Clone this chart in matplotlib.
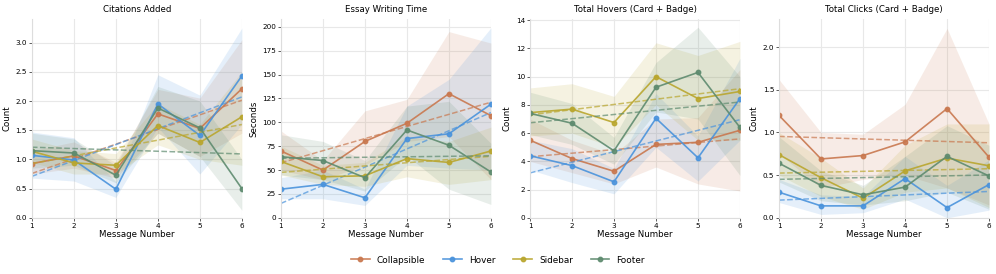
import matplotlib
matplotlib.use("Agg")
import matplotlib.pyplot as plt
import numpy as np

# Message numbers
messages = [1, 2, 3, 4, 5, 6]
conditions = ["Collapsible", "Hover", "Sidebar", "Footer"]
colors = {"Collapsible": "#c9784f", "Hover": "#4a93dc",
          "Sidebar": "#b9a62e", "Footer": "#5e8b6f"}

# Citations Added
cit_mean = {"Collapsible": [0.93, 1.06, 0.81, 1.78, 1.53, 2.21],
            "Hover": [1.07, 0.99, 0.49, 1.95, 1.41, 2.43],
            "Sidebar": [1.14, 0.94, 0.90, 1.58, 1.29, 1.73],
            "Footer": [1.15, 1.11, 0.73, 1.88, 1.54, 0.50]}
cit_low = {"Collapsible": [0.75, 0.85, 0.68, 1.45, 1.05, 1.45],
           "Hover": [0.68, 0.63, 0.35, 1.55, 0.75, 1.60],
           "Sidebar": [0.95, 0.75, 0.75, 1.25, 1.00, 0.90],
           "Footer": [0.85, 0.90, 0.60, 1.45, 1.05, 0.13]}
cit_high = {"Collapsible": [1.15, 1.30, 0.95, 2.20, 2.05, 3.05],
            "Hover": [1.47, 1.37, 0.62, 2.45, 2.10, 3.25],
            "Sidebar": [1.35, 1.15, 1.10, 1.95, 1.60, 2.50],
            "Footer": [1.45, 1.35, 0.90, 2.25, 2.00, 1.00]}

# Essay Writing Time
time_mean = {"Collapsible": [70, 50, 80, 99, 130, 107],
             "Hover": [30, 35, 21, 83, 88, 119],
             "Sidebar": [59, 43, 44, 62, 58, 70],
             "Footer": [64, 60, 42, 92, 76, 48]}
time_low = {"Collapsible": [50, 40, 55, 80, 85, 40],
            "Hover": [20, 20, 13, 55, 52, 50],
            "Sidebar": [45, 35, 33, 43, 35, 40],
            "Footer": [45, 40, 28, 65, 30, 14]}
time_high = {"Collapsible": [91, 60, 112, 124, 195, 183],
             "Hover": [42, 50, 30, 117, 145, 199],
             "Sidebar": [75, 55, 58, 85, 80, 95],
             "Footer": [87, 80, 60, 117, 122, 78]}

# Total Hovers
hov_mean = {"Collapsible": [5.5, 4.2, 3.3, 5.2, 5.35, 6.2],
            "Hover": [4.4, 3.7, 2.55, 7.05, 4.25, 8.45],
            "Sidebar": [7.45, 7.7, 6.75, 10.0, 8.45, 8.95],
            "Footer": [7.4, 6.7, 4.75, 9.25, 10.3, 6.4]}
hov_low = {"Collapsible": [4.0, 3.2, 2.4, 3.6, 2.4, 1.9],
           "Hover": [3.4, 2.5, 1.7, 5.0, 2.6, 5.5],
           "Sidebar": [5.8, 6.0, 5.0, 8.0, 5.5, 5.5],
           "Footer": [5.9, 5.2, 3.8, 7.5, 7.0, 3.0]}
hov_high = {"Collapsible": [7.0, 5.5, 4.5, 7.0, 7.1, 10.5],
            "Hover": [5.5, 4.9, 3.5, 8.8, 5.8, 11.3],
            "Sidebar": [9.2, 9.5, 8.6, 12.4, 11.5, 12.5],
            "Footer": [8.9, 8.1, 5.7, 11.0, 13.5, 10.0]}

# Total Clicks
clk_mean = {"Collapsible": [1.20, 0.69, 0.73, 0.89, 1.28, 0.71],
            "Hover": [0.30, 0.14, 0.14, 0.46, 0.12, 0.39],
            "Sidebar": [0.74, 0.47, 0.23, 0.55, 0.70, 0.61],
            "Footer": [0.64, 0.38, 0.27, 0.36, 0.72, 0.49]}
clk_low = {"Collapsible": [0.75, 0.35, 0.45, 0.50, 0.35, 0.15],
           "Hover": [0.18, 0.04, 0.06, 0.22, 0.00, 0.09],
           "Sidebar": [0.50, 0.25, 0.10, 0.30, 0.35, 0.12],
           "Footer": [0.42, 0.20, 0.15, 0.20, 0.30, 0.10]}
clk_high = {"Collapsible": [1.62, 1.00, 0.98, 1.33, 2.22, 1.10],
            "Hover": [0.45, 0.27, 0.25, 0.72, 0.38, 0.68],
            "Sidebar": [1.00, 0.70, 0.35, 0.85, 1.10, 1.10],
            "Footer": [0.95, 0.55, 0.38, 0.72, 1.08, 0.85]}

panels = [("Citations Added", "Count", cit_mean, cit_low, cit_high),
          ("Essay Writing Time", "Seconds", time_mean, time_low, time_high),
          ("Total Hovers (Card + Badge)", "Count", hov_mean, hov_low, hov_high),
          ("Total Clicks (Card + Badge)", "Count", clk_mean, clk_low, clk_high)]

fig, axes = plt.subplots(1, 4, figsize=(9.96, 2.74), dpi=100)
plt.subplots_adjust(left=0.032, right=0.993, top=0.931, bottom=0.205, wspace=0.186)

x = np.array(messages)
for ax, (title, ylabel, mean, low, high) in zip(axes, panels):
    for c in conditions:
        col = colors[c]
        ax.fill_between(x, low[c], high[c], color=col, alpha=0.14, lw=0)
        ax.plot(x, mean[c], color=col, marker="o", ms=3.2, lw=1.2, alpha=0.9, label=c)
        k, b = np.polyfit(x, mean[c], 1)
        ax.plot(x, k * x + b, color=col, ls="--", lw=1.1, alpha=0.7)
    ax.set_xlim(1, 6)
    ax.set_ylim(bottom=0)
    ax.set_xticks(messages)
    ax.set_title(title, fontsize=6.2, pad=5)
    ax.set_xlabel("Message Number", fontsize=6.2, labelpad=1)
    ax.set_ylabel(ylabel, fontsize=6.2, labelpad=3)
    ax.tick_params(labelsize=5.2, length=2, width=0.6, pad=1.5, color="#444444")
    ax.grid(True, color="#e8e8e8", lw=0.8)
    ax.set_axisbelow(True)
    for s in ["top", "right"]:
        ax.spines[s].set_visible(False)
    for s in ["left", "bottom"]:
        ax.spines[s].set_color("#dddddd")

axes[1].set_yticks(np.arange(0, 201, 25))
axes[2].set_yticks(np.arange(0, 15, 2))

handles, labels = axes[0].get_legend_handles_labels()
fig.legend(handles, labels, loc="center", bbox_to_anchor=(0.5, 0.051), ncol=4,
           frameon=False, fontsize=6.4, columnspacing=2.0, handlelength=2.1,
           handletextpad=0.8)

plt.savefig("out.png", dpi=100)
